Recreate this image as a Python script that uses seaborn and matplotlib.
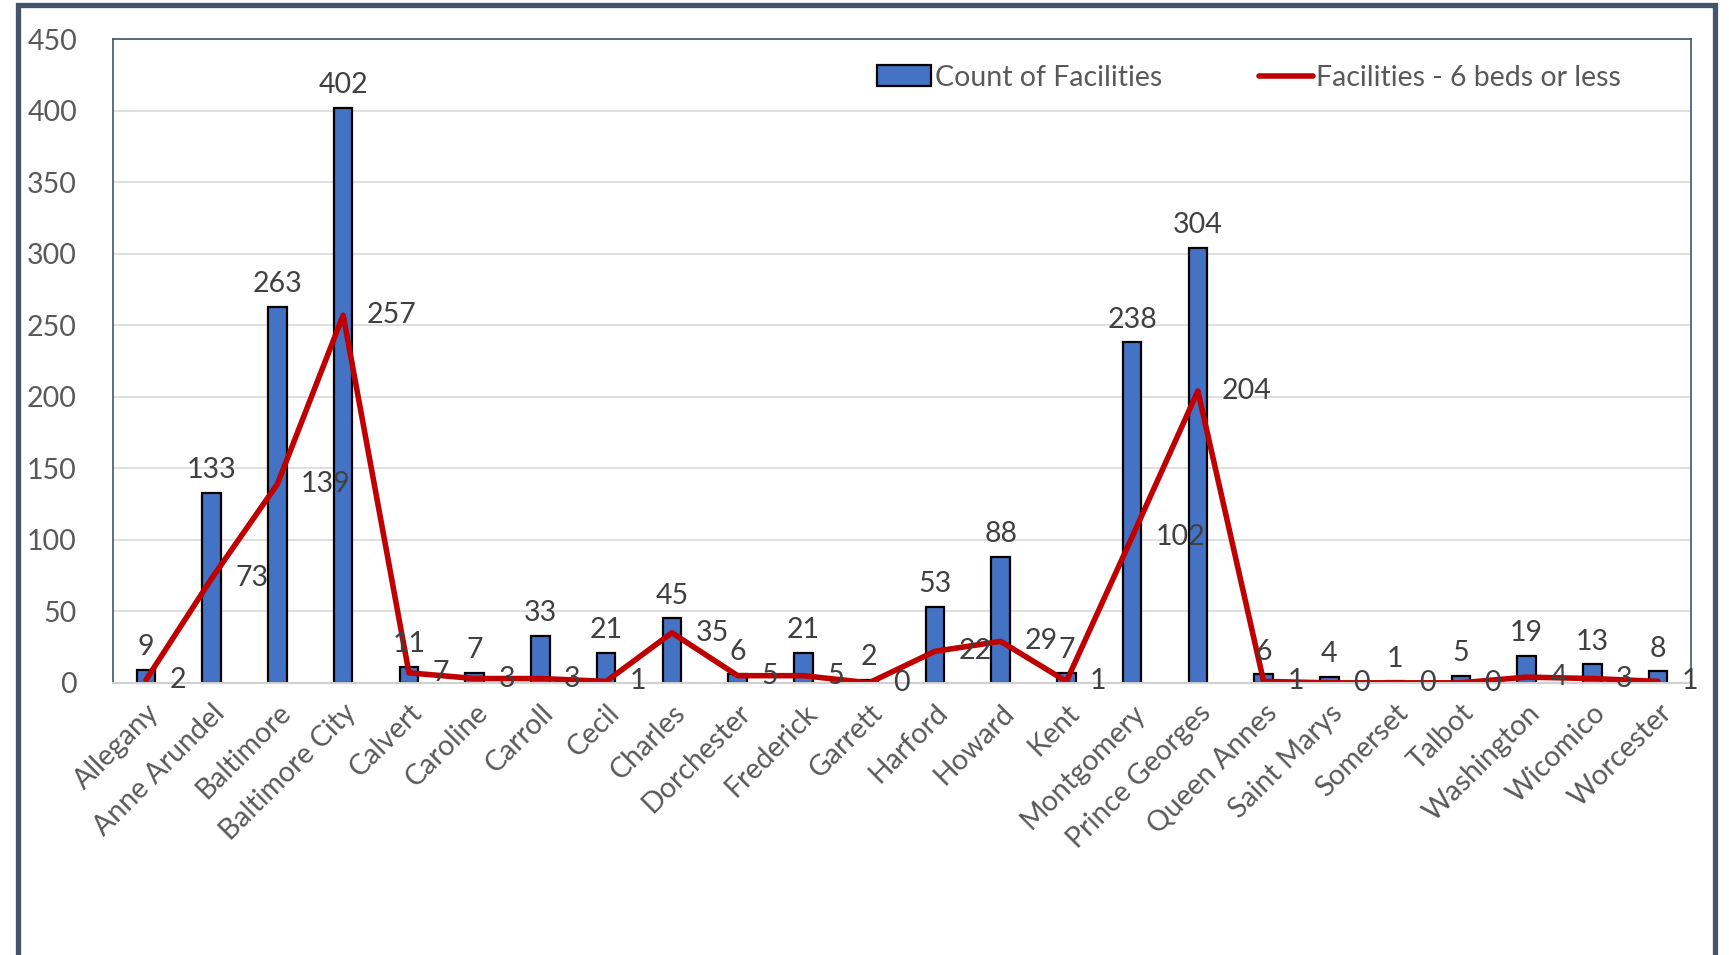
import numpy as np
import pandas as pd
import matplotlib
matplotlib.use("Agg")
import matplotlib.pyplot as plt
from matplotlib.patches import Rectangle, Patch
from matplotlib.lines import Line2D
import seaborn as sns

# ---- data ----
counties = ["Allegany", "Anne Arundel", "Baltimore", "Baltimore City", "Calvert",
            "Caroline", "Carroll", "Cecil", "Charles", "Dorchester", "Frederick",
            "Garrett", "Harford", "Howard", "Kent", "Montgomery", "Prince Georges",
            "Queen Annes", "Saint Marys", "Somerset", "Talbot", "Washington",
            "Wicomico", "Worcester"]
facility_count = [9, 133, 263, 402, 11, 7, 33, 21, 45, 6, 21, 2, 53, 88, 7,
                  238, 304, 6, 4, 1, 5, 19, 13, 8]
small_facilities = [2, 73, 139, 257, 7, 3, 3, 1, 35, 5, 5, 0, 22, 29, 1,
                    102, 204, 1, 0, 0, 0, 4, 3, 1]
y_ticks = list(range(0, 451, 50))

df = pd.DataFrame({"county": counties, "count": facility_count, "small": small_facilities})

sns.set_theme(style="white")
plt.rcParams["font.family"] = ["Lato", "DejaVu Sans"]

BLUE = "#4472C4"
RED = "#C00000"
TXT = "#595959"
LBL = "#404040"
SLATE = "#44546A"
FS = 20.5

fig = plt.figure(figsize=(17.29, 9.55), dpi=100)
ax = fig.add_axes([0.0654, 0.285, 0.9126, 0.674])

sns.barplot(data=df, x="county", y="count", color=BLUE, width=0.28,
            edgecolor="black", linewidth=1.6, saturation=1, ax=ax)
sns.lineplot(data=df, x="county", y="small", color=RED, linewidth=4, sort=False,
             ax=ax, solid_capstyle="round")

# data labels
for i, (c, s) in enumerate(zip(facility_count, small_facilities)):
    ax.annotate(str(c), (i, c), xytext=(0, 7), textcoords="offset points",
                ha="center", va="bottom", fontsize=FS, color=LBL)
    ax.annotate(str(s), (i, s), xytext=(17, 0), textcoords="offset points",
                ha="left", va="center", fontsize=FS, color=LBL)

ax.set_xlim(-0.5, len(counties) - 0.5)
ax.set_ylim(0, 450)
ax.set_yticks(y_ticks)
ax.set_yticklabels([str(v) for v in y_ticks], fontsize=FS, color=TXT)
ax.set_xticks(range(len(counties)))
ax.set_xticklabels(counties, rotation=45, ha="right", rotation_mode="anchor",
                   fontsize=FS, color=TXT)
ax.tick_params(axis="y", length=0, pad=26)
ax.tick_params(axis="x", length=0, pad=12)
ax.set_xlabel("")
ax.set_ylabel("")
ax.yaxis.grid(True, color="#D9D9D9", linewidth=1.2)
ax.set_axisbelow(True)
for side in ["left", "top", "right"]:
    ax.spines[side].set_color(SLATE)
    ax.spines[side].set_linewidth(1.2)
ax.spines["bottom"].set_color("#D0D0D0")
ax.spines["bottom"].set_linewidth(1.5)

handles = [Patch(facecolor=BLUE, edgecolor="black", linewidth=1.6),
           Line2D([], [], color=RED, linewidth=4, solid_capstyle="round")]
leg = ax.legend(handles, ["Count of Facilities", "Facilities - 6 beds or less"],
                loc="upper right", bbox_to_anchor=(0.972, 1.0), ncol=2, frameon=False,
                fontsize=FS, handlelength=1.9, handleheight=0.75, handletextpad=0.12,
                columnspacing=3.4)
for t in leg.get_texts():
    t.set_color(TXT)

# outer chart frame
fig.patches.append(Rectangle((0.0105, -0.05), 0.9815, 1.045, transform=fig.transFigure,
                             fill=False, edgecolor=SLATE, linewidth=3.8))

fig.savefig("out.png", dpi=100, facecolor="white")
